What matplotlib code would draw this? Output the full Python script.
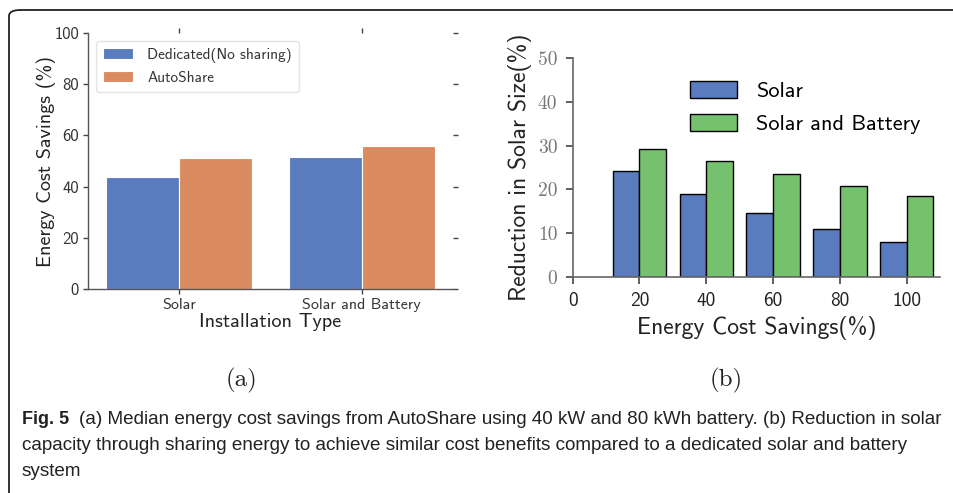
import matplotlib.pyplot as plt
import numpy as np
from matplotlib.patches import FancyBboxPatch

# (a) median energy cost savings
install_types = ['Solar', 'Solar and Battery']
dedicated = [43.8, 51.7]
autoshare = [51.3, 56.0]

# (b) reduction in solar size per target savings level
savings_levels = [20, 40, 60, 80, 100]
solar_reduction = [24.1, 19.0, 14.7, 10.9, 7.9]
solar_batt_reduction = [29.2, 26.5, 23.5, 20.8, 18.5]

blue = '#5A7BBE'
orange = '#DA8B5F'
green = '#76C16E'
sans = 'cmss10'
serif = 'cmr10'

fig = plt.figure(figsize=(9.54, 4.93), dpi=100)

# outer frame of the figure
frame = FancyBboxPatch((9 / 954, -0.1), 1.2, 1.1 - 10 / 493,
                       boxstyle='round,pad=0,rounding_size=0.012',
                       transform=fig.transFigure, fill=False,
                       edgecolor='#222222', linewidth=1.3)
fig.patches.append(frame)

# ---- (a) ----
ax1 = fig.add_axes([0.0922, 0.4138, 0.3826, 0.5193])
x = np.arange(len(install_types))
ax1.bar(x - 0.2, dedicated, width=0.4, color=blue, edgecolor='white',
        linewidth=0.8, label='Dedicated(No sharing)')
ax1.bar(x + 0.2, autoshare, width=0.4, color=orange, edgecolor='white',
        linewidth=0.8, label='AutoShare')
ax1.set_xlim(-0.5, 1.5)
ax1.set_ylim(0, 100)
ax1.set_yticks(range(0, 101, 20))
ax1.set_xticks(x)
ax1.set_xticklabels(install_types, fontfamily=sans, fontsize=11.5, color='#333333')
for lbl in ax1.get_yticklabels():
    lbl.set_fontfamily(sans)
    lbl.set_fontsize(12)
    lbl.set_color('#333333')
for side in ['top', 'right']:
    ax1.spines[side].set_visible(False)
for side in ['left', 'bottom']:
    ax1.spines[side].set_color('#555555')
    ax1.spines[side].set_linewidth(1.0)
ax1.tick_params(top=True, right=True, direction='out', length=3.5,
                width=1.0, color='#444444', pad=3)
ax1.set_xlabel('Installation Type', fontfamily=sans, fontsize=14.5,
               color='#222222', labelpad=1)
ax1.set_ylabel('Energy Cost Savings (%)', fontfamily=sans, fontsize=14.5,
               color='#222222', labelpad=-1)
leg1 = ax1.legend(loc='upper left', prop={'family': sans, 'size': 11},
                  frameon=True, handlelength=2.0, handleheight=0.7,
                  borderpad=0.45, labelspacing=0.55, handletextpad=0.9,
                  borderaxespad=0, bbox_to_anchor=(0.022, 0.97))
leg1.get_frame().set_edgecolor('#dddddd')
for t in leg1.get_texts():
    t.set_color('#333333')

# ---- (b) ----
ax2 = fig.add_axes([0.6003, 0.4387, 0.385, 0.443])
ax2.bar(savings_levels, solar_reduction, width=-8, align='edge', color=blue,
        edgecolor='black', linewidth=1.0, label='Solar')
ax2.bar(savings_levels, solar_batt_reduction, width=8, align='edge', color=green,
        edgecolor='black', linewidth=1.0, label='Solar and Battery')
ax2.set_xlim(0, 110)
ax2.set_ylim(0, 50)
ax2.set_xticks(range(0, 101, 20))
ax2.set_yticks(range(0, 51, 10))
for lbl in ax2.get_xticklabels():
    lbl.set_fontfamily(sans)
    lbl.set_fontsize(14)
    lbl.set_color('#222222')
for lbl in ax2.get_yticklabels():
    lbl.set_fontfamily(serif)
    lbl.set_fontsize(14)
    lbl.set_color('#777777')
for side in ['top', 'right']:
    ax2.spines[side].set_visible(False)
for side in ['left', 'bottom']:
    ax2.spines[side].set_color('#666666')
    ax2.spines[side].set_linewidth(1.2)
ax2.tick_params(direction='out', length=5, width=1.2, color='#444444', pad=6)
ax2.set_xlabel('Energy Cost Savings(%)', fontfamily=sans, fontsize=17,
               color='#222222', labelpad=4)
ax2.set_ylabel('Reduction in Solar Size(%)', fontfamily=sans, fontsize=17,
               color='#222222', labelpad=4)
leg2 = ax2.legend(loc='upper right', prop={'family': sans, 'size': 16},
                  frameon=False, handlelength=2.1, handleheight=0.8,
                  labelspacing=0.58, handletextpad=0.85, borderpad=0,
                  borderaxespad=0, bbox_to_anchor=(0.946, 0.898))

# sub-figure labels
fig.text(241 / 954, 1 - 380 / 493, '(a)', fontfamily=serif, fontsize=18,
         ha='center', va='center', color='#222222')
fig.text(726 / 954, 1 - 380 / 493, '(b)', fontfamily=serif, fontsize=18,
         ha='center', va='center', color='#222222')

# caption
cap = ['Liberation Sans', 'DejaVu Sans']
cap_size = 13.6
fig.text(22 / 954, 1 - 419 / 493, 'Fig. 5', fontfamily=cap, fontsize=13,
         fontweight='bold', ha='left', va='center', color='#222222')
fig.text(79 / 954, 1 - 419 / 493,
         '(a) Median energy cost savings from AutoShare using 40 kW and 80 kWh '
         'battery. (b) Reduction in solar',
         fontfamily=cap, fontsize=cap_size, ha='left', va='center', color='#222222')
fig.text(22 / 954, 1 - 446 / 493,
         'capacity through sharing energy to achieve similar cost benefits compared '
         'to a dedicated solar and battery',
         fontfamily=cap, fontsize=cap_size, ha='left', va='center', color='#222222')
fig.text(22 / 954, 1 - 472 / 493, 'system', fontfamily=cap, fontsize=cap_size,
         ha='left', va='center', color='#222222')

fig.savefig('out.png', dpi=100)
